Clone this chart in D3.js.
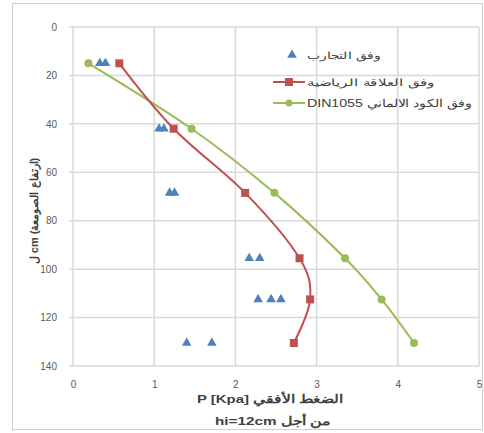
<!DOCTYPE html>
<html><head><meta charset="utf-8">
<script src="https://cdn.jsdelivr.net/npm/d3@7"></script>
<style>body{margin:0;background:#fff}svg{display:block;font-family:"Liberation Sans",Arial,sans-serif}</style>
</head><body><svg id="c" width="484" height="433"></svg>
<script>
const depths = [15, 42, 68.5, 95.5, 112.5, 130.5];
const expDepths = [15, 15, 42, 42, 68.5, 68.5, 95.5, 95.5, 112.5, 112.5, 112.5, 130.5, 130.5];
const expValues = [0.33, 0.4, 1.06, 1.12, 1.19, 1.25, 2.17, 2.3, 2.28, 2.44, 2.56, 1.4, 1.71];
const mathValues = [0.57, 1.24, 2.12, 2.79, 2.92, 2.72];
const dinValues = [0.19, 1.46, 2.48, 3.35, 3.8, 4.2];
const xTicks = [0, 1, 2, 3, 4, 5];
const yTicks = [0, 20, 40, 60, 80, 100, 120, 140];
const legendLabels = ["وفق التجارب", "وفق العلاقة الرياضية", "DIN1055 وفق الكود الالماني"];
const xTitle1 = "P  [Kpa] الضغط الأفقي";
const xTitle2 = "hi=12cm من أجل";
const yTitle = "ل cm (ارتفاع الصومعة)";

const colors = {exp: "#4F81BD", math: "#C0504D", din: "#9BBB59"};
const svg = d3.select("#c");
const L = 73, R = 479, T = 27, B = 366;
const x = d3.scaleLinear().domain([0, 5]).range([L, R]);
const y = d3.scaleLinear().domain([0, 140]).range([T, B]);

// outer border
svg.append("rect").attr("x", 12.5).attr("y", 3.5).attr("width", 470).attr("height", 426)
  .attr("fill", "#fff").attr("stroke", "#d0d0d0");

// grid
const g = svg.append("g");
g.selectAll(".hg").data(yTicks).join("line")
  .attr("x1", L - 4).attr("x2", R).attr("y1", d => y(d)).attr("y2", d => y(d))
  .attr("stroke", "#d9d9d9").attr("stroke-width", 1.5);
g.selectAll(".vg").data(xTicks).join("line")
  .attr("x1", d => x(d)).attr("x2", d => x(d)).attr("y1", T).attr("y2", B)
  .attr("stroke", "#d9d9d9").attr("stroke-width", 1.5);

// axes labels
const xa = svg.append("g").attr("transform", `translate(0,${B})`)
  .call(d3.axisBottom(x).tickValues(xTicks).tickSize(0).tickPadding(15).tickFormat(d3.format("d")));
const ya = svg.append("g").attr("transform", `translate(${L - 4},0)`)
  .call(d3.axisLeft(y).tickValues(yTicks).tickSize(0).tickPadding(12).tickFormat(d3.format("d")));
[xa, ya].forEach(a => {
  a.select(".domain").remove();
  a.selectAll("text").attr("fill", "#595959").attr("font-size", 10);
});

// lines
const curve = d3.curveCatmullRom.alpha(0);
const line = d3.line().x(d => x(d[0])).y(d => y(d[1])).curve(curve);
const mathPts = mathValues.map((v, i) => [v, depths[i]]);
const dinPts = dinValues.map((v, i) => [v, depths[i]]);
svg.append("path").attr("d", line(dinPts)).attr("fill", "none")
  .attr("stroke", colors.din).attr("stroke-width", 2);
svg.append("path").attr("d", line(mathPts)).attr("fill", "none")
  .attr("stroke", colors.math).attr("stroke-width", 2);

const tri = d3.symbol().type(d3.symbolTriangle).size(40);
svg.selectAll(".exp").data(expValues.map((v, i) => [v, expDepths[i]])).join("path")
  .attr("d", tri).attr("transform", d => `translate(${x(d[0])},${y(d[1])})`)
  .attr("fill", colors.exp);
svg.selectAll(".m").data(mathPts).join("rect")
  .attr("x", d => x(d[0]) - 4).attr("y", d => y(d[1]) - 4).attr("width", 8).attr("height", 8)
  .attr("fill", colors.math);
svg.selectAll(".dn").data(dinPts).join("circle")
  .attr("cx", d => x(d[0])).attr("cy", d => y(d[1])).attr("r", 4)
  .attr("fill", colors.din);

// legend
const lg = svg.append("g");
const ly = [55, 82, 103];
const lw = [74, 128, 164];
lg.append("path").attr("d", tri).attr("transform", `translate(292,${ly[0]})`).attr("fill", colors.exp);
lg.append("line").attr("x1", 273).attr("x2", 305).attr("y1", ly[1]).attr("y2", ly[1]).attr("stroke", colors.math).attr("stroke-width", 2);
lg.append("rect").attr("x", 285).attr("y", ly[1] - 4).attr("width", 8).attr("height", 8).attr("fill", colors.math);
lg.append("line").attr("x1", 273).attr("x2", 305).attr("y1", ly[2]).attr("y2", ly[2]).attr("stroke", colors.din).attr("stroke-width", 2);
lg.append("circle").attr("cx", 289).attr("cy", ly[2]).attr("r", 3.5).attr("fill", colors.din);
legendLabels.forEach((t, i) => {
  lg.append("text").attr("x", 307).attr("y", ly[i] + 3.5).attr("direction", "ltr")
    .attr("font-size", i === 2 ? 11 : 10).attr("fill", "#404040")
    .attr("textLength", lw[i]).attr("lengthAdjust", "spacingAndGlyphs").text(t);
});

// titles
svg.append("text").attr("x", 197).attr("y", 403)
  .attr("direction", "ltr").attr("font-size", 11.5).attr("font-weight", "bold").attr("fill", "#404040")
  .attr("textLength", 146).attr("lengthAdjust", "spacingAndGlyphs").text(xTitle1);
svg.append("text").attr("x", 215).attr("y", 425)
  .attr("direction", "ltr").attr("font-size", 11.5).attr("font-weight", "bold").attr("fill", "#404040")
  .attr("textLength", 115).attr("lengthAdjust", "spacingAndGlyphs").text(xTitle2);
svg.append("text").attr("transform", "translate(38,211) rotate(-90)").attr("text-anchor", "middle")
  .attr("direction", "ltr").attr("font-size", 11).attr("font-weight", "bold").attr("fill", "#404040").text(yTitle);
</script></body></html>
